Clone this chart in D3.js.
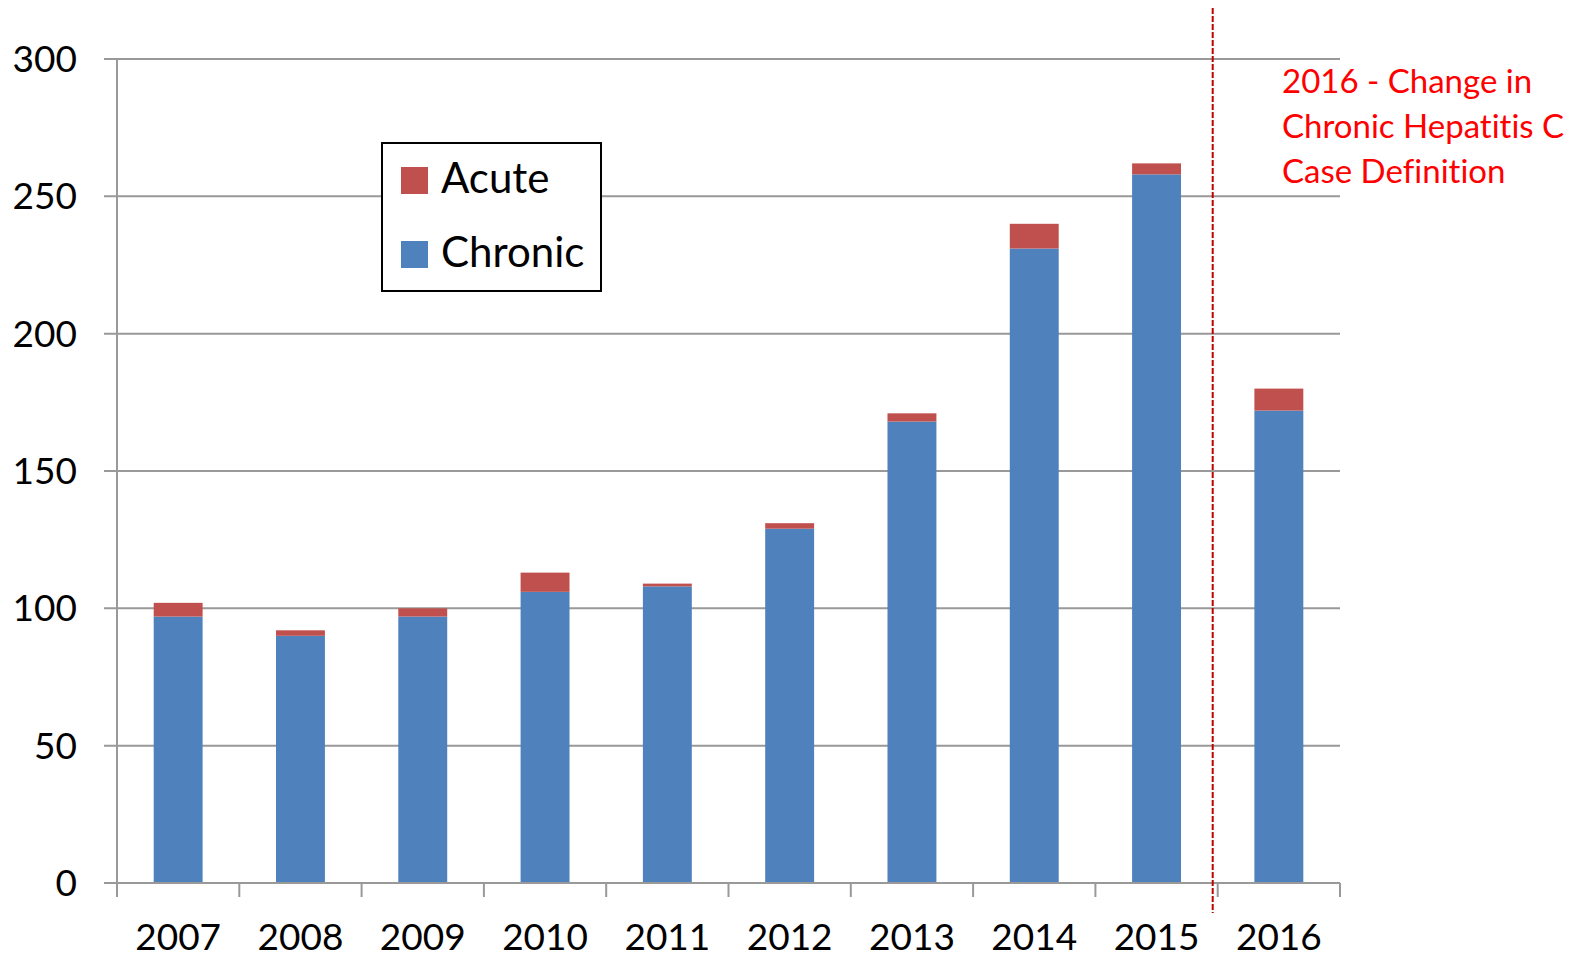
<!DOCTYPE html>
<html>
<head>
<meta charset="utf-8">
<script src="https://cdn.jsdelivr.net/npm/d3@7"></script>
<style>
  body { margin: 0; background: #fff; }
  svg { display: block; font-family: Lato, "Open Sans", sans-serif; font-variant-ligatures: none; }
</style>
</head>
<body>
<div id="chart"></div>
<script>
var years = ["2007", "2008", "2009", "2010", "2011", "2012", "2013", "2014", "2015", "2016"];
var chronic = [97, 90, 97, 106, 108, 129, 168, 231, 258, 172];
var acute = [5, 2, 3, 7, 1, 2, 3, 9, 4, 8];
var yTicks = [0, 50, 100, 150, 200, 250, 300];
var seriesNames = ["Acute", "Chronic"];
var noteLines = ["2016 - Change in", "Chronic Hepatitis C", "Case Definition"];

var W = 1589, H = 957;
var plotLeft = 117, plotRight = 1340, plotTop = 59, plotBottom = 883;

var svg = d3.select("#chart").append("svg")
    .attr("width", W)
    .attr("height", H);

var x = d3.scaleBand().domain(years).range([plotLeft, plotRight]).paddingInner(0.6).paddingOuter(0.3);
var xb = d3.scaleBand().domain(years).range([plotLeft, plotRight]);
var y = d3.scaleLinear().domain([0, 300]).range([plotBottom, plotTop]);

var color = { Acute: "#C0504D", Chronic: "#4F81BD" };

// gridlines
svg.append("g")
    .selectAll("line")
    .data(yTicks)
    .enter()
    .append("line")
    .attr("x1", plotLeft - 13)
    .attr("x2", plotRight)
    .attr("y1", function(d) { return y(d); })
    .attr("y2", function(d) { return y(d); })
    .style("stroke", "#999")
    .style("stroke-width", 2);

// y labels
svg.append("g")
    .selectAll("text")
    .data(yTicks)
    .enter()
    .append("text")
    .attr("x", 77)
    .attr("y", function(d) { return y(d); })
    .attr("dy", "0.35em")
    .attr("text-anchor", "end")
    .style("font-size", "37px")
    .text(function(d) { return d; });

// y axis line
svg.append("line")
    .attr("x1", plotLeft).attr("x2", plotLeft)
    .attr("y1", plotTop).attr("y2", plotBottom + 14)
    .style("stroke", "#999")
    .style("stroke-width", 2);

// x ticks at category boundaries
var bounds = years.map(function(d) { return xb(d); }).concat([plotRight]);
svg.append("g")
    .selectAll("line")
    .data(bounds.slice(1))
    .enter()
    .append("line")
    .attr("x1", function(d) { return d; })
    .attr("x2", function(d) { return d; })
    .attr("y1", plotBottom)
    .attr("y2", plotBottom + 14)
    .style("stroke", "#999")
    .style("stroke-width", 2);

// x labels
svg.append("g")
    .selectAll("text")
    .data(years)
    .enter()
    .append("text")
    .attr("x", function(d) { return xb(d) + xb.bandwidth() / 2; })
    .attr("y", 950)
    .attr("text-anchor", "middle")
    .style("font-size", "37px")
    .text(function(d) { return d; });

// stacked bars
var rows = years.map(function(d, i) { return { year: d, Chronic: chronic[i], Acute: acute[i] }; });
var stack = d3.stack().keys(["Chronic", "Acute"])(rows);

svg.append("g")
    .selectAll("g")
    .data(stack)
    .enter()
    .append("g")
    .style("fill", function(s) { return color[s.key]; })
    .selectAll("rect")
    .data(function(s) { return s; })
    .enter()
    .append("rect")
    .attr("x", function(d) { return x(d.data.year); })
    .attr("width", x.bandwidth())
    .attr("y", function(d) { return y(d[1]); })
    .attr("height", function(d) { return y(d[0]) - y(d[1]); });

// baseline
svg.append("line")
    .attr("x1", plotLeft - 13).attr("x2", plotRight)
    .attr("y1", plotBottom).attr("y2", plotBottom)
    .style("stroke", "#999")
    .style("stroke-width", 2);

// dashed divider before 2016
var divX = xb("2016") - 5;
svg.append("line")
    .attr("x1", divX).attr("x2", divX)
    .attr("y1", 8).attr("y2", 913)
    .style("stroke", "#C00000")
    .style("stroke-width", 2)
    .style("stroke-dasharray", "6,2");

// note
svg.append("text")
    .attr("x", 1282)
    .attr("y", 93)
    .style("fill", "#FF0000")
    .style("font-size", "33px")
    .selectAll("tspan")
    .data(noteLines)
    .enter()
    .append("tspan")
    .attr("x", 1282)
    .attr("y", function(d, i) { return 93 + i * 45; })
    .text(function(d) { return d; });

// legend
var lg = svg.append("g");
lg.append("rect")
    .attr("x", 382).attr("y", 143)
    .attr("width", 219).attr("height", 148)
    .style("fill", "#fff")
    .style("stroke", "#000")
    .style("stroke-width", 2);

var items = lg.selectAll("g")
    .data(seriesNames)
    .enter()
    .append("g")
    .attr("transform", function(d, i) { return "translate(0," + (i * 74) + ")"; });
items.append("rect")
    .attr("x", 401).attr("y", 167)
    .attr("width", 27).attr("height", 27)
    .style("fill", function(d) { return color[d]; });
items.append("text")
    .attr("x", 441).attr("y", 193)
    .style("font-size", "42px")
    .text(function(d) { return d; });
</script>
</body>
</html>
